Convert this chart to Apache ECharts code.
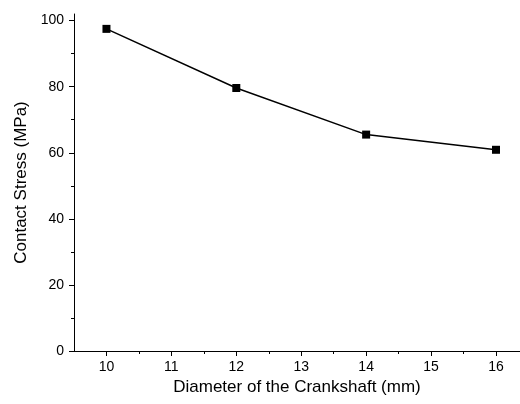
<!DOCTYPE html>
<html>
<head>
<meta charset="utf-8">
<script src="https://cdn.jsdelivr.net/npm/echarts@6/dist/echarts.min.js"></script>
<style>
  html, body { margin: 0; padding: 0; background: #fff; }
  #chart { width: 520px; height: 404px; }
</style>
</head>
<body>
<div id="chart"></div>
<script>
// crankshaft diameter (mm) vs contact stress (MPa)
const diameters = [10, 12, 14, 16];
const stress = [97.5, 79.6, 65.5, 60.9];
const xMajorTicks = [10, 11, 12, 13, 14, 15, 16];
const xMinorTicks = [10.5, 11.5, 12.5, 13.5, 14.5, 15.5];
const yMajorTicks = [0, 20, 40, 60, 80, 100];
const yMinorTicks = [10, 30, 50, 70, 90];

const chart = echarts.init(document.getElementById('chart'));
const font = 'Liberation Sans, Arial, sans-serif';
const black = '#000';

const option = {
  animation: false,
  grid: { left: 74, top: 14, right: 0, bottom: 53 },
  xAxis: [{
    type: 'value', min: 9.5, max: 16.37,
    name: 'Diameter of the Crankshaft (mm)',
    nameLocation: 'middle', nameGap: 26,
    nameTextStyle: { color: black, fontSize: 17, fontFamily: font },
    axisLine: { lineStyle: { color: black, width: 1 } },
    axisTick: { customValues: xMajorTicks, length: 5, lineStyle: { color: black } },
    axisLabel: { customValues: xMajorTicks, color: black, fontSize: 14, fontFamily: font, margin: 9 },
    splitLine: { show: false }
  }, {
    // minor ticks at half-mm steps
    type: 'value', min: 9.5, max: 16.37, position: 'bottom',
    axisLine: { show: false },
    axisTick: { customValues: xMinorTicks, length: 3, lineStyle: { color: black } },
    axisLabel: { show: false },
    splitLine: { show: false }
  }],
  yAxis: [{
    type: 'value', min: 0, max: 102,
    name: 'Contact Stress (MPa)',
    nameLocation: 'middle', nameGap: 44,
    nameTextStyle: { color: black, fontSize: 17, fontFamily: font },
    axisLine: { show: true, lineStyle: { color: black, width: 1 } },
    axisTick: { show: true, customValues: yMajorTicks, length: 5, lineStyle: { color: black } },
    axisLabel: { customValues: yMajorTicks, color: black, fontSize: 14, fontFamily: font, margin: 10 },
    splitLine: { show: false }
  }, {
    type: 'value', min: 0, max: 102, position: 'left',
    axisLine: { show: false },
    axisTick: { show: true, customValues: yMinorTicks, length: 3, lineStyle: { color: black } },
    axisLabel: { show: false },
    splitLine: { show: false }
  }],
  series: [{
    type: 'line',
    data: diameters.map((d, i) => [d, stress[i]]),
    symbol: 'rect', symbolSize: 8,
    itemStyle: { color: black },
    lineStyle: { color: black, width: 1.5 }
  }]
};
chart.setOption(option);
</script>
</body>
</html>
